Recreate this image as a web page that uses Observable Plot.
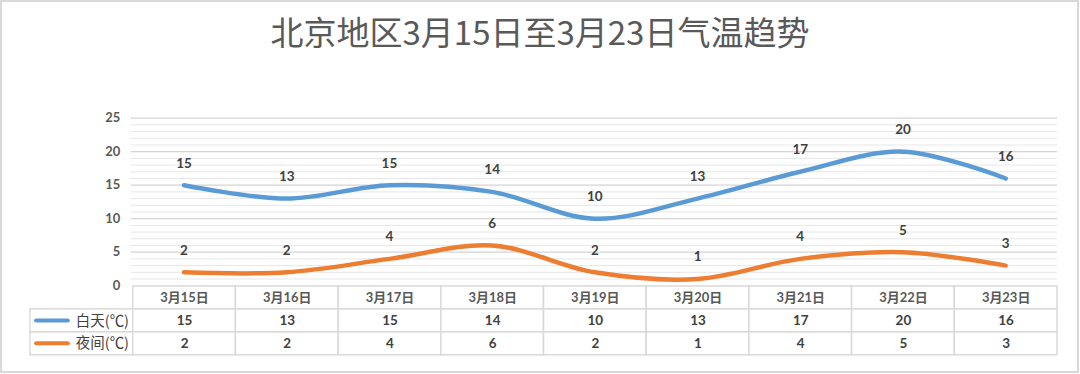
<!DOCTYPE html>
<html>
<head>
<meta charset="utf-8">
<script src="https://cdn.jsdelivr.net/npm/d3@7"></script>
<script src="https://cdn.jsdelivr.net/npm/@observablehq/plot@0.6"></script>
<style>
  html, body { margin: 0; padding: 0; background: #fff; }
  #wrap { position: relative; width: 1079px; height: 373px; box-sizing: border-box; border: 2px solid #d9d9d9; overflow: hidden; }
  #title { position: absolute; left: -2px; top: 6px; width: 1080px; text-align: center; font-family: "Noto Sans CJK SC", sans-serif; font-size: 33px; line-height: 46px; color: #595959; }
  #main, #table { position: absolute; left: -2px; }
  #main { top: -2px; }
  #table { top: 281px; }
</style>
</head>
<body>
<div id="wrap">
  <div id="title">北京地区3月15日至3月23日气温趋势</div>
  <div id="table"></div>
  <div id="main"></div>
</div>
<script>
const dates = ["3月15日","3月16日","3月17日","3月18日","3月19日","3月20日","3月21日","3月22日","3月23日"];
const dayTemps = [15, 13, 15, 14, 10, 13, 17, 20, 16];
const nightTemps = [2, 2, 4, 6, 2, 1, 4, 5, 3];
const seriesNames = ["白天(℃)", "夜间(℃)"];
const seriesColors = ["#5B9BD5", "#ED7D31"];
const yTicks = [0, 5, 10, 15, 20, 25];

const series = [dayTemps, nightTemps];
const points = series.flatMap((vals, s) => vals.map((v, i) => ({date: dates[i], value: v, series: seriesNames[s]})));
const minorTicks = d3.range(1, 26).filter(v => v % 5 !== 0);
const majorTicks = yTicks.filter(v => v > 0);

const numFont = "Lato, 'Noto Sans CJK SC', sans-serif";

const main = Plot.plot({
  width: 1080,
  height: 302,
  marginTop: 118,
  marginBottom: 16,
  marginLeft: 131,
  marginRight: 20,
  style: {background: "transparent", fontFamily: numFont, fontSize: "13px", fontWeight: "bold", color: "#595959"},
  x: {type: "point", domain: dates, padding: 0.5, axis: null},
  y: {domain: [0, 25], ticks: yTicks, tickSize: 0, tickPadding: 11, label: null, tickFormat: d => d},
  color: {domain: seriesNames, range: seriesColors},
  marks: [
    Plot.ruleY(minorTicks, {stroke: "#e6e6e6", strokeWidth: 1}),
    Plot.ruleY(majorTicks, {stroke: "#d4d4d4", strokeWidth: 1.2}),
    Plot.line(points, {x: "date", y: "value", z: "series", stroke: "series", strokeWidth: 4.5, curve: "catmull-rom", strokeLinecap: "round", strokeLinejoin: "round"}),
    Plot.text(points, {x: "date", y: "value", text: d => String(d.value), dy: -22, fill: "#404040", fontSize: 13.5, fontWeight: "bold"})
  ]
});
document.getElementById("main").appendChild(main);

const legendKey = "__legend";
const rows = ["header", ...seriesNames];
const cells = [
  ...dates.map(d => ({col: d, row: "header"})),
  ...seriesNames.flatMap(s => [legendKey, ...dates].map(d => ({col: d, row: s})))
];
const headerTexts = dates.map(d => ({col: d, row: "header", text: d}));
const valueTexts = series.flatMap((vals, s) => vals.map((v, i) => ({col: dates[i], row: seriesNames[s], text: String(v)})));
const legendItems = seriesNames.map((s, i) => ({col: legendKey, row: s, text: s, color: seriesColors[i]}));

const table = Plot.plot({
  width: 1080,
  height: 74,
  marginTop: 3,
  marginBottom: 2,
  marginLeft: 29,
  marginRight: 20,
  style: {background: "transparent", fontFamily: numFont},
  x: {type: "band", domain: [legendKey, ...dates], padding: 0, axis: null},
  y: {type: "band", domain: rows, padding: 0, axis: null},
  marks: [
    Plot.cell(cells, {x: "col", y: "row", fill: "white", stroke: "#d9d9d9", strokeWidth: 1.5, inset: 0}),
    Plot.cell(legendItems, {x: "col", y: "row", fill: "color", insetLeft: 4, insetRight: 63, insetTop: 9.5, insetBottom: 9.5, rx: 2.5}),
    Plot.text(legendItems, {x: "col", y: "row", text: "text", textAnchor: "start", dx: -6, fill: "#404040", fontSize: 14.5, fontFamily: "'Noto Sans CJK SC', sans-serif"}),
    Plot.text(headerTexts, {x: "col", y: "row", text: "text", fill: "#595959", fontSize: 13, fontWeight: "bold"}),
    Plot.text(valueTexts, {x: "col", y: "row", text: "text", fill: "#404040", fontSize: 13.5, fontWeight: "bold"})
  ]
});
document.getElementById("table").appendChild(table);
</script>
</body>
</html>
